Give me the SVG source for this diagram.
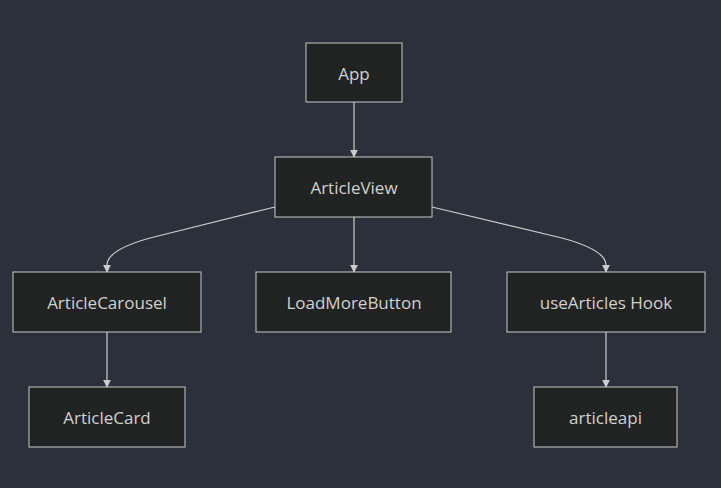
<svg xmlns="http://www.w3.org/2000/svg" width="721" height="488" viewBox="0 0 721 488">
<style>
.node rect{fill:#212322;stroke:#c8c8c8;stroke-width:1}
.node text{fill:#d0d0d0;font-family:"Open Sans","Liberation Sans",sans-serif;font-size:17px;font-weight:500;text-anchor:middle;dominant-baseline:central}
.edge{fill:none;stroke:#cccccc;stroke-width:1.2}
</style>
<defs>
<marker id="ah" viewBox="0 0 10 10" refX="9" refY="5" markerWidth="8" markerHeight="8" orient="auto" markerUnits="userSpaceOnUse">
<path d="M0,0 L10,5 L0,10 z" fill="#cccccc"/>
</marker>
</defs>
<rect width="721" height="488" fill="#2b303b"/>
<g id="connectors">
<path class="edge" d="M354,102 L354,157" marker-end="url(#ah)"/>
<path class="edge" d="M275,207 L150,238 Q107,250 107,265 L107,272" marker-end="url(#ah)"/>
<path class="edge" d="M354,217 L354,272" marker-end="url(#ah)"/>
<path class="edge" d="M432,207 L562,238 Q606,250 606,265 L606,272" marker-end="url(#ah)"/>
<path class="edge" d="M107,332 L107,387" marker-end="url(#ah)"/>
<path class="edge" d="M606,332 L606,387" marker-end="url(#ah)"/>
</g>
<g id="App" class="node"><rect x="306" y="43" width="96" height="59"/><text x="354" y="73">App</text></g>
<g id="ArticleView" class="node"><rect x="275" y="157" width="157" height="60"/><text x="354" y="187">ArticleView</text></g>
<g id="ArticleCarousel" class="node"><rect x="13" y="272" width="188" height="60"/><text x="107" y="302">ArticleCarousel</text></g>
<g id="LoadMoreButton" class="node"><rect x="256" y="272" width="195" height="60"/><text x="354" y="302">LoadMoreButton</text></g>
<g id="useArticlesHook" class="node"><rect x="507" y="272" width="198" height="60"/><text x="606" y="302">useArticles Hook</text></g>
<g id="ArticleCard" class="node"><rect x="29" y="387" width="156" height="60"/><text x="107" y="417">ArticleCard</text></g>
<g id="articleapi" class="node"><rect x="534" y="387" width="143" height="60"/><text x="605.5" y="417">articleapi</text></g>
</svg>
